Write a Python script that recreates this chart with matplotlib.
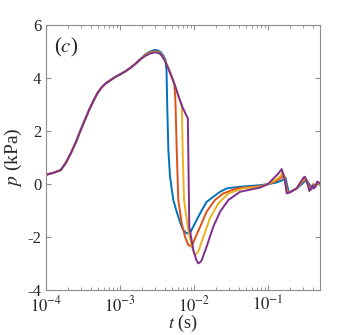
import math
import matplotlib
matplotlib.use('Agg')
import matplotlib.pyplot as plt
from matplotlib.ticker import FixedLocator, FuncFormatter, LogLocator, NullFormatter

plt.rcParams['font.family'] = ['Liberation Serif', 'DejaVu Serif']
plt.rcParams['mathtext.fontset'] = 'stix'

# shared rise (all four curves lie on top of each other here)
t_rise = [1e-4, 1.3e-4, 1.58e-4, 1.85e-4, 2.16e-4, 2.55e-4, 2.94e-4, 3.35e-4, 3.81e-4, 4.35e-4,
          4.93e-4, 5.6e-4, 6.4e-4, 7.5e-4, 8.7e-4, 1.0e-3, 1.19e-3, 1.4e-3, 1.63e-3, 1.9e-3]
p_rise = [0.35, 0.44, 0.53, 0.8, 1.16, 1.6, 2.04, 2.42, 2.79, 3.13,
          3.42, 3.64, 3.8, 3.93, 4.05, 4.14, 4.26, 4.4, 4.55, 4.72]

# blue
t_blue = [2.2e-3, 2.55e-3, 2.88e-3, 3.2e-3, 3.55e-3, 3.85e-3, 4.1e-3, 4.25e-3, 4.35e-3, 4.5e-3,
          4.74e-3, 5.25e-3, 5.7e-3, 6.13e-3, 6.6e-3, 7.16e-3, 7.96e-3, 9.02e-3, 1.03e-2, 1.21e-2,
          1.48e-2, 1.82e-2, 2.25e-2, 2.77e-2, 4.19e-2, 7.8e-2,
          0.1, 0.13, 0.155, 0.172, 0.19, 0.205, 0.25, 0.33, 0.37, 0.385, 0.42, 0.44, 0.48, 0.51]
p_blue = [4.9, 5.0, 5.06, 5.05, 4.98, 4.85, 4.7, 4.3, 2.9, 1.28,
          0.28, -0.6, -0.95, -1.23, -1.5, -1.74, -1.86, -1.8, -1.48, -1.1,
          -0.67, -0.48, -0.29, -0.16, -0.1, -0.04,
          0.0, 0.06, 0.14, 0.25, -0.3, -0.28, -0.15, 0.16, -0.05, -0.2, -0.02, -0.1, 0.06, -0.05]

# orange
t_orange = [2.2e-3, 2.55e-3, 2.88e-3, 3.2e-3, 3.55e-3, 4.0e-3, 4.5e-3, 5.0e-3, 5.4e-3, 5.6e-3,
            5.84e-3, 6.13e-3, 6.82e-3, 7.56e-3, 8.37e-3, 9.31e-3, 1.03e-2, 1.21e-2, 1.48e-2, 1.92e-2,
            2.49e-2, 3.78e-2, 7.8e-2,
            0.1, 0.125, 0.148, 0.164, 0.185, 0.2, 0.245, 0.32, 0.355, 0.37, 0.41, 0.43, 0.475, 0.51]
p_orange = [4.88, 4.97, 5.01, 5.0, 4.93, 4.7, 4.38, 4.05, 3.8, 3.2,
            1.28, -0.6, -1.48, -1.99, -2.3, -2.36, -2.05, -1.61, -1.04, -0.6,
            -0.35, -0.16, -0.08,
            0.0, 0.1, 0.22, 0.36, -0.32, -0.3, -0.16, 0.22, -0.05, -0.22, 0.0, -0.12, 0.08, -0.02]

# yellow
t_yellow = [2.2e-3, 2.55e-3, 2.88e-3, 3.2e-3, 3.55e-3, 4.0e-3, 4.5e-3, 5.0e-3, 5.53e-3, 6.2e-3,
            6.85e-3, 7.03e-3, 7.33e-3, 8.37e-3, 9.31e-3, 1.03e-2, 1.14e-2, 1.34e-2, 1.64e-2, 2.13e-2,
            2.91e-2, 4.64e-2, 7.8e-2,
            0.1, 0.123, 0.145, 0.159, 0.182, 0.2, 0.245, 0.31, 0.35, 0.365, 0.405, 0.425, 0.47, 0.51]
p_yellow = [4.86, 4.95, 4.99, 4.98, 4.92, 4.7, 4.38, 4.05, 3.72, 3.3,
            2.95, 1.2, -0.6, -1.74, -2.36, -2.68, -2.55, -1.99, -1.29, -0.73,
            -0.35, -0.16, -0.1,
            0.0, 0.14, 0.28, 0.46, -0.34, -0.3, -0.16, 0.25, -0.07, -0.24, 0.0, -0.14, 0.09, -0.03]

# purple
t_purple = [2.2e-3, 2.55e-3, 2.88e-3, 3.2e-3, 3.55e-3, 4.0e-3, 4.5e-3, 5.0e-3, 5.53e-3, 6.2e-3,
            7.0e-3, 7.7e-3, 8.25e-3, 8.45e-3, 8.63e-3, 9.8e-3, 1.07e-2, 1.14e-2, 1.21e-2, 1.27e-2,
            1.48e-2, 1.82e-2, 2.25e-2, 2.91e-2, 4.19e-2, 7.8e-2,
            0.1, 0.118, 0.138, 0.153, 0.17, 0.179, 0.198, 0.244, 0.30, 0.316, 0.351, 0.362,
            0.402, 0.419, 0.464, 0.505]
p_purple = [4.84, 4.93, 4.97, 4.96, 4.9, 4.68, 4.36, 4.04, 3.72, 3.3,
            2.9, 2.65, 2.49, 0.4, -1.61, -2.49, -2.85, -2.99, -2.95, -2.87,
            -2.36, -1.61, -1.04, -0.6, -0.29, -0.13,
            0.0, 0.21, 0.4, 0.57, 0.09, -0.35, -0.31, -0.16, 0.24, 0.28, -0.1, -0.26,
            -0.04, -0.16, 0.09, 0.03]

series = [(t_blue, p_blue, '#0072BD'),
          (t_orange, p_orange, '#D95319'),
          (t_yellow, p_yellow, '#EDB120'),
          (t_purple, p_purple, '#7E2F8E')]

fig = plt.figure(figsize=(3.54, 3.35), dpi=100)
ax = fig.add_axes([0.130, 0.134, 0.775, 0.791])

for t, p, c in series:
    ax.plot(t_rise + t, p_rise + p, color=c, lw=1.4)

ax.set_xscale('log')
ax.set_xlim(1e-4, 0.51)
ax.set_ylim(-4, 6)
ax.yaxis.set_major_locator(FixedLocator([-4, -2, 0, 2, 4, 6]))
ax.yaxis.set_major_formatter(FuncFormatter(lambda v, pos: f'{int(v)}'))
ax.xaxis.set_major_locator(FixedLocator([1e-4, 1e-3, 1e-2, 1e-1]))
ax.xaxis.set_major_formatter(FuncFormatter(lambda v, pos: r'$10^{%d}$' % round(math.log10(v))))
ax.xaxis.set_minor_locator(LogLocator(base=10, subs=range(2, 10)))
ax.xaxis.set_minor_formatter(NullFormatter())

axis_col = '0.55'
for s in ax.spines.values():
    s.set_color(axis_col)
    s.set_linewidth(0.8)
ax.tick_params(which='both', direction='in', top=True, right=True, colors=axis_col,
               labelcolor='#262626', labelsize=12)
ax.tick_params(which='major', length=3.5)
ax.tick_params(which='minor', length=2)
ax.tick_params(axis='x', pad=4)

ax.set_xlabel(r'$t$ (s)', fontsize=13, color='#262626', labelpad=-2)
ax.set_ylabel(r'$p$ (kPa)', fontsize=14, color='#262626', labelpad=2)
ax.text(0.03, 0.96, r'($c$)', transform=ax.transAxes, fontsize=15, va='top', ha='left',
        color='#262626')

fig.savefig('out.png', dpi=100)
